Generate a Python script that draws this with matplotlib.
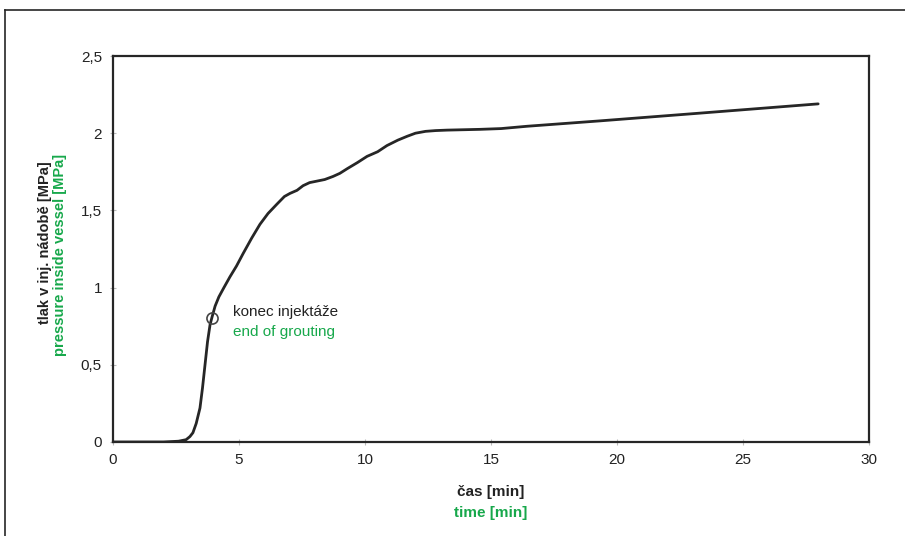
import matplotlib.pyplot as plt
from matplotlib.lines import Line2D

# data
time_min = [0, 1.0, 2.0, 2.6, 2.9, 3.05, 3.17, 3.3, 3.45, 3.55, 3.65, 3.75, 3.85, 3.93,
            4.05, 4.2, 4.4, 4.64, 4.9, 5.16, 5.5, 5.83, 6.15, 6.5, 6.8, 7.02, 7.3,
            7.54, 7.8, 8.1, 8.4, 8.73, 9.0, 9.29, 9.7, 10.08, 10.5, 10.87, 11.3,
            11.67, 12.0, 12.4, 12.8, 13.25, 14.56, 15.4, 16.43, 19.33, 23.29, 27.98]
pressure = [0, 0, 0, 0.005, 0.015, 0.035, 0.06, 0.12, 0.22, 0.35, 0.5, 0.65, 0.76, 0.81,
            0.88, 0.94, 1.0, 1.07, 1.14, 1.22, 1.32, 1.41, 1.48, 1.54, 1.59, 1.61, 1.63,
            1.66, 1.68, 1.69, 1.70, 1.72, 1.74, 1.77, 1.81, 1.85, 1.88, 1.92, 1.955,
            1.98, 2.0, 2.012, 2.017, 2.02, 2.025, 2.03, 2.045, 2.08, 2.13, 2.19]
end_point = (3.93, 0.8)
xticks = [0, 5, 10, 15, 20, 25, 30]
yticks = [0, 0.5, 1, 1.5, 2, 2.5]
ytick_labels = ['0', '0,5', '1', '1,5', '2', '2,5']

plt.rcParams['font.family'] = ['Liberation Sans', 'DejaVu Sans']

green = '#17a84b'
dark = '#262626'

fig = plt.figure(figsize=(9.05, 5.36), dpi=100)
ax = fig.add_axes([0.1249, 0.1754, 0.8354, 0.7201])

ax.plot(time_min, pressure, color=dark, lw=2.0, solid_capstyle='round',
        solid_joinstyle='round')
ax.plot(*end_point, marker='o', ms=8, mfc='none', mec='#444444', mew=1.2)

ax.set_xlim(0, 30)
ax.set_ylim(0, 2.5)
ax.set_xticks(xticks)
ax.set_xticklabels([str(t) for t in xticks])
ax.set_yticks(yticks)
ax.set_yticklabels(ytick_labels)
ax.tick_params(axis='both', direction='inout', length=4, width=0.8, color='#bbbbbb',
               labelsize=11, labelcolor='#222222', pad=6)

for s in ax.spines.values():
    s.set_linewidth(1.6)
    s.set_color(dark)

ax.text(4.75, 0.84, 'konec injektáže', fontsize=11, color='#222222', va='center')
ax.text(4.75, 0.71, 'end of grouting', fontsize=11, color=green, va='center')

# axis titles, two languages
fig.text(0.0497, 0.547, 'tlak v inj. nádobě [MPa]', rotation=90, fontsize=10.5,
         fontweight='bold', color='#222222', ha='center', va='center')
fig.text(0.0663, 0.524, 'pressure inside vessel [MPa]', rotation=90, fontsize=10.5,
         fontweight='bold', color=green, ha='center', va='center')
fig.text(0.5425, 0.083, 'čas [min]', fontsize=11, fontweight='bold',
         color='#222222', ha='center', va='center')
fig.text(0.5425, 0.043, 'time [min]', fontsize=11, fontweight='bold',
         color=green, ha='center', va='center')

# outer frame lines
fig.add_artist(Line2D([0.0055, 0.0055], [0.0, 0.981], color=dark, lw=1.2))
fig.add_artist(Line2D([0.0055, 1.0], [0.981, 0.981], color=dark, lw=1.2))

fig.savefig('out.png', dpi=100)
